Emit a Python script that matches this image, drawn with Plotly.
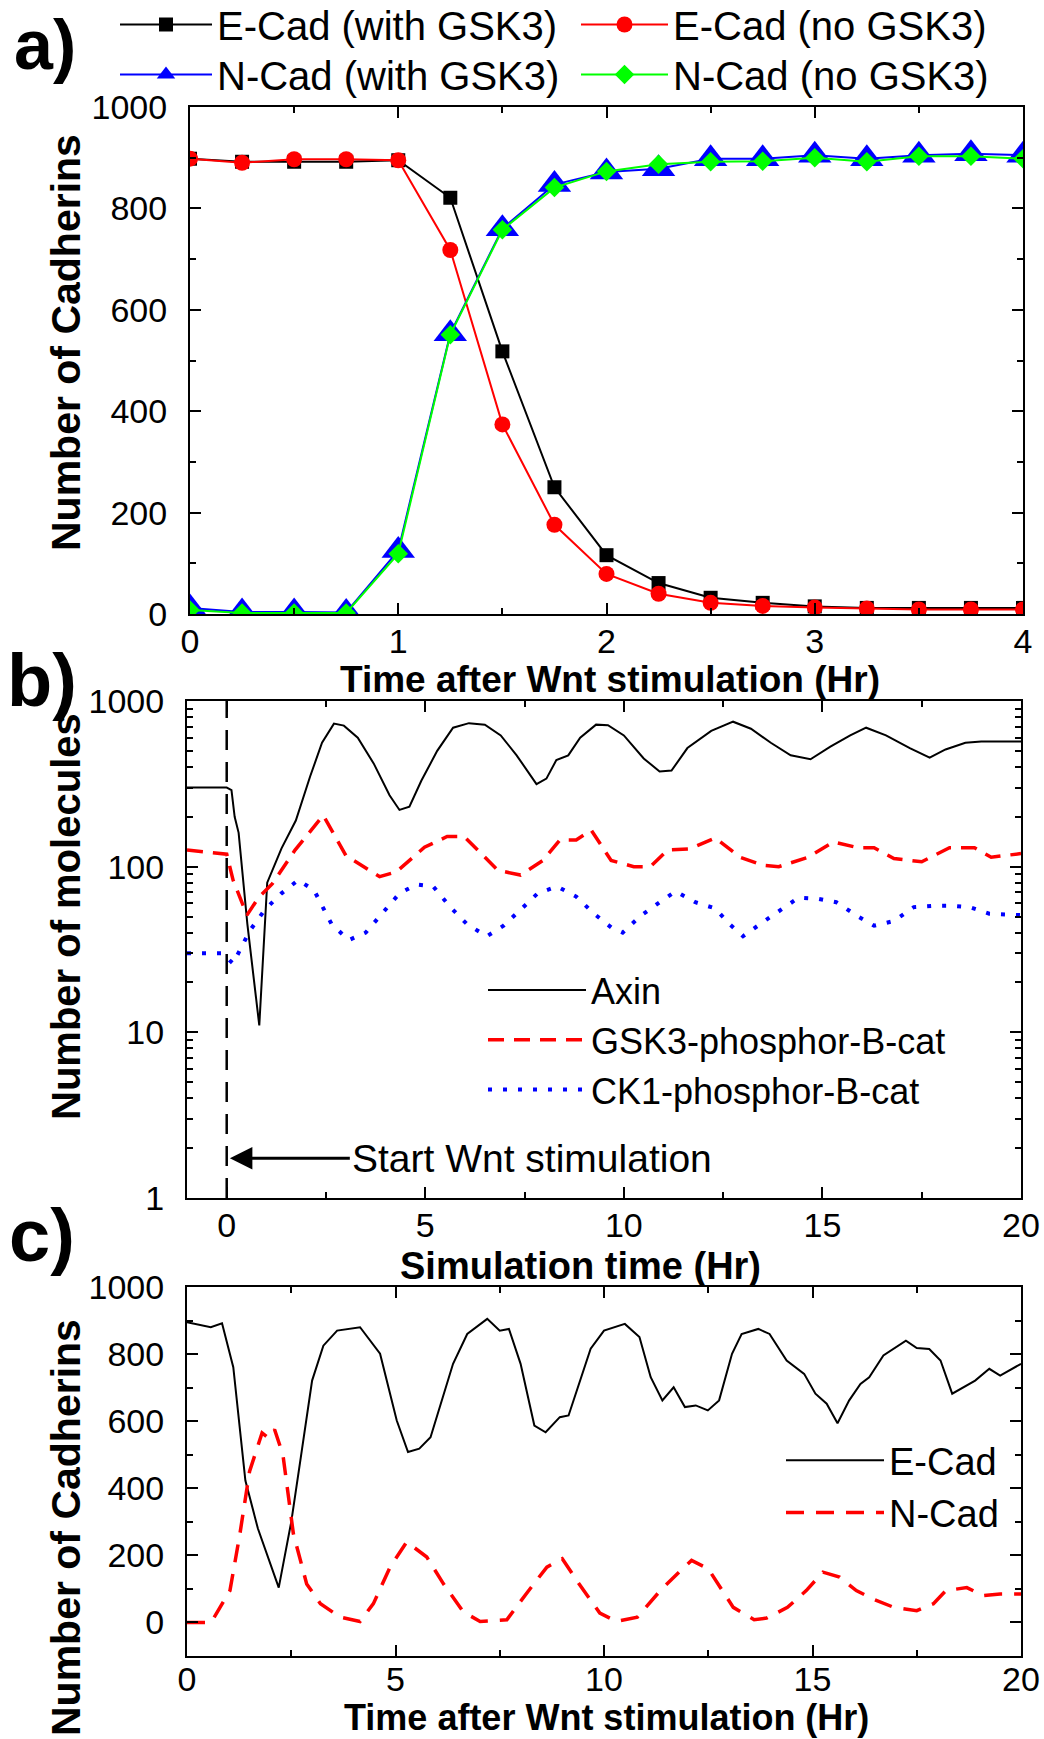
import plotly.graph_objects as go

W, H = 1044, 1739
FONT = "Liberation Sans, Arial, sans-serif"

# ---------------- Panel a data ----------------
a_time = [0, 0.25, 0.5, 0.75, 1.0, 1.25, 1.5, 1.75, 2.0, 2.25, 2.5, 2.75, 3.0, 3.25, 3.5, 3.75, 4.0]
ecad_gsk3 = [898, 892, 892, 892, 895, 821, 518, 250, 116, 61, 32, 22, 15, 12, 12, 12, 12]
ecad_nogsk3 = [898, 890, 897, 897, 895, 718, 374, 176, 79, 40, 22, 16, 13, 11, 9, 9, 9]
ncad_gsk3 = [12, 4, 4, 3, 125, 553, 760, 847, 872, 878, 898, 898, 905, 898, 905, 908, 905]
ncad_nogsk3 = [8, 2, 2, 2, 119, 551, 758, 841, 873, 887, 892, 893, 900, 892, 903, 903, 898]

# ---------------- Panel b data ----------------
axin_t = [-1, 0, 0.12, 0.2, 0.3, 0.52, 0.82, 0.9, 1.02, 1.38, 1.74, 2.1, 2.4, 2.7, 2.95, 3.3,
          3.7, 4.1, 4.35, 4.6, 4.9, 5.3, 5.7, 6.1, 6.5, 6.9, 7.3, 7.8, 8.05, 8.3, 8.6, 8.9,
          9.3, 9.6, 10.0, 10.5, 10.9, 11.2, 11.6, 12.2, 12.75, 13.2, 13.7, 14.2, 14.7, 15.2,
          15.7, 16.1, 16.6, 17.2, 17.7, 18.1, 18.6, 19.0, 20.0]
axin_v = [300, 300, 290, 200, 160, 45, 11, 25, 80, 129, 190, 350, 560, 730, 710, 600,
          420, 270, 220, 230, 330, 500, 690, 735, 720, 620, 470, 315, 340, 440, 470, 600,
          720, 715, 620, 450, 375, 380, 520, 660, 750, 680, 560, 470, 445, 530,
          620, 690, 620, 520, 455, 510, 560, 570, 570]

gsk_t = [-1, 0, 0.16, 0.51, 0.8, 1.15, 1.72, 2.43, 3.0, 3.85, 4.27, 4.98, 5.55, 5.98, 6.83,
         7.4, 7.96, 8.39, 8.8, 9.18, 9.68, 10.25, 10.67, 11.1, 11.66, 12.3, 12.93, 13.5, 13.9,
         14.64, 15.28, 15.9, 16.3, 16.8, 17.5, 18.2, 18.83, 19.25, 20.0]
gsk_v = [126, 119, 83, 51, 65, 79, 126, 204, 117, 87, 93, 131, 152, 152, 95,
         89, 109, 145, 145, 166, 109, 100, 100, 126, 128, 149, 114, 102, 100,
         114, 141, 130, 130, 112, 107, 130, 130, 114, 120]

ck1_t = [-1, -0.12, 0.16, 0.58, 0.96, 1.38, 1.8, 2.2, 2.64, 3.07, 3.5, 3.92, 4.35, 4.78, 5.2,
         5.63, 6.05, 6.55, 6.97, 7.4, 7.83, 8.32, 8.8, 9.25, 9.68, 9.97, 10.4, 10.9, 11.3,
         11.8, 12.3, 12.66, 13.0, 13.43, 13.9, 14.4, 14.9, 15.35, 15.9, 16.3, 16.8, 17.3,
         17.8, 18.3, 18.7, 19.2, 20.0]
ck1_v = [30, 30, 26, 41, 55, 69, 83, 72, 45, 36, 40, 52, 69, 78, 76,
         57, 45, 38, 44, 55, 69, 76, 66, 52, 43, 40, 50, 61, 71,
         61, 56, 45, 38, 45, 54, 65, 64, 61, 50, 44, 47, 57,
         58, 58, 57, 52, 51]

stim_t = [0, 0]
stim_v = [1, 1000]

# ---------------- Panel c data ----------------
ecad_t = [0, 0.57, 0.84, 1.11, 1.4, 1.7, 2.2, 2.5, 2.73, 3.0, 3.27, 3.6, 4.15, 4.63, 5.03,
          5.3, 5.57, 5.84, 6.38, 6.72, 7.2, 7.5, 7.72, 8.0, 8.33, 8.6, 8.94, 9.15, 9.68,
          10.0, 10.5, 10.85, 11.12, 11.4, 11.67, 11.94, 12.2, 12.49, 12.76, 13.07, 13.3,
          13.7, 13.97, 14.38, 14.8, 15.07, 15.34, 15.6, 15.88, 16.15, 16.36, 16.7, 17.24,
          17.5, 17.8, 18.07, 18.35, 18.9, 19.24, 19.5, 20.0]
ecad_v = [895, 880, 892, 761, 423, 280, 104, 300, 493, 721, 825, 870, 880, 801, 602,
          508, 518, 552, 771, 860, 905, 870, 875, 771, 587, 567, 612, 617, 816,
          870, 890, 851, 731, 662, 701, 642, 647, 632, 662, 801, 860,
          875, 860, 781, 741, 682, 652, 594, 662, 711, 731, 796, 840,
          818, 815, 781, 682, 721, 756, 736, 771]

ncad_t = [0, 0.58, 1.03, 1.27, 1.5, 1.8, 1.95, 2.1, 2.3, 2.55, 2.87, 3.2, 3.67, 4.15, 4.47,
          4.87, 5.27, 5.75, 6.15, 6.63, 7.03, 7.67, 8.15, 8.63, 9.0, 9.4, 9.9, 10.3, 10.8,
          11.35, 11.8, 12.1, 12.5, 13.1, 13.6, 13.9, 14.4, 14.85, 15.25, 15.65, 16.05,
          16.45, 16.95, 17.5, 17.9, 18.2, 18.7, 19.1, 19.5, 20.0]
ncad_v = [0, 0, 95, 265, 450, 565, 550, 575, 500, 265, 115, 56, 16, 3, 56,
          165, 240, 195, 115, 31, 3, 8, 88, 165, 190, 115, 28, 3, 16,
          95, 150, 185, 160, 45, 8, 13, 45, 95, 150, 135, 95,
          70, 45, 35, 56, 95, 104, 80, 85, 85]

# ---------------- helpers ----------------
def px_x(p):
    return p / W

def px_y(p):
    return 1 - p / H

fig = go.Figure()

# Panel a traces (each legend entry placed on its own grid cell)
fig.add_trace(go.Scatter(x=a_time, y=ecad_gsk3, mode="lines+markers", name="E-Cad (with GSK3)",
                         line=dict(color="black", width=2),
                         marker=dict(symbol="square", size=14, color="black"),
                         xaxis="x", yaxis="y", legend="legend"))
fig.add_trace(go.Scatter(x=a_time, y=ecad_nogsk3, mode="lines+markers", name="E-Cad (no GSK3)",
                         line=dict(color="#ff0000", width=2),
                         marker=dict(symbol="circle", size=16, color="#ff0000"),
                         xaxis="x", yaxis="y", legend="legend4"))
fig.add_trace(go.Scatter(x=a_time, y=ncad_gsk3, mode="lines+markers", name="N-Cad (with GSK3)",
                         line=dict(color="#0000ff", width=2),
                         marker=dict(symbol="triangle-up", size=29, color="#0000ff"),
                         xaxis="x", yaxis="y", legend="legend5"))
fig.add_trace(go.Scatter(x=a_time, y=ncad_nogsk3, mode="lines+markers", name="N-Cad (no GSK3)",
                         line=dict(color="#00ff00", width=2),
                         marker=dict(symbol="diamond", size=15, color="#00ff00"),
                         xaxis="x", yaxis="y", legend="legend6"))

# Panel b traces
fig.add_trace(go.Scatter(x=axin_t, y=axin_v, mode="lines", name="Axin",
                         line=dict(color="black", width=2),
                         xaxis="x2", yaxis="y2", legend="legend2"))
fig.add_trace(go.Scatter(x=gsk_t, y=gsk_v, mode="lines", name="GSK3-phosphor-B-cat",
                         line=dict(color="#ff0000", width=3.5, dash="16px,10px"),
                         xaxis="x2", yaxis="y2", legend="legend2"))
fig.add_trace(go.Scatter(x=ck1_t, y=ck1_v, mode="lines", name="CK1-phosphor-B-cat",
                         line=dict(color="#0000ff", width=4, dash="4px,11px"),
                         xaxis="x2", yaxis="y2", legend="legend2"))
fig.add_trace(go.Scatter(x=stim_t, y=stim_v, mode="lines", showlegend=False,
                         line=dict(color="black", width=2.5, dash="20px,12px"),
                         xaxis="x2", yaxis="y2"))

# Panel c traces
fig.add_trace(go.Scatter(x=ecad_t, y=ecad_v, mode="lines", name="E-Cad",
                         line=dict(color="black", width=2),
                         xaxis="x3", yaxis="y3", legend="legend3"))
fig.add_trace(go.Scatter(x=ncad_t, y=ncad_v, mode="lines", name="N-Cad",
                         line=dict(color="#ff0000", width=3.5, dash="18px,12px"),
                         xaxis="x3", yaxis="y3", legend="legend3"))

tickfont = dict(family=FONT, size=34, color="black")

def ax(**kw):
    d = dict(showline=True, linecolor="black", linewidth=2, mirror="ticks",
             ticks="inside", ticklen=11, tickwidth=2, tickcolor="black",
             showgrid=False, zeroline=False, tickfont=tickfont, automargin=False)
    d.update(kw)
    return d

minor_lin = lambda dt: dict(ticks="inside", ticklen=6, tickwidth=2, tickcolor="black",
                            dtick=dt, showgrid=False)

# panel geometry in pixels
A = dict(l=190, r=1023, t=107, b=614)
B = dict(l=187, r=1021, t=701, b=1198)
C = dict(l=187, r=1021, t=1287, b=1656)

def leg(x, y, iw=98, size=37):
    return dict(orientation="v", x=px_x(x), y=px_y(y), xanchor="left", yanchor="top",
                itemwidth=iw, font=dict(family=FONT, size=size, color="black"),
                bgcolor="rgba(0,0,0,0)", itemsizing="trace")

fig.update_layout(
    width=W, height=H,
    margin=dict(l=0, r=0, t=0, b=0, autoexpand=False),
    paper_bgcolor="white", plot_bgcolor="white",
    font=dict(family=FONT, color="black"),
    xaxis=ax(domain=[px_x(A["l"]), px_x(A["r"])], range=[0, 4], dtick=1, tick0=0,
             minor=minor_lin(0.5), anchor="y", ticklabelstandoff=-4),
    yaxis=ax(domain=[px_y(A["b"]), px_y(A["t"])], range=[0, 1000], dtick=200, tick0=0,
             minor=minor_lin(100), anchor="x", ticklabelstandoff=14),
    xaxis2=ax(domain=[px_x(B["l"]), px_x(B["r"])], range=[-1, 20], dtick=5, tick0=0,
              minor=minor_lin(2.5), anchor="y2", ticklabelstandoff=-4),
    yaxis2=ax(domain=[px_y(B["b"]), px_y(B["t"])], type="log", range=[0, 3],
              tickvals=[1, 10, 100, 1000], ticktext=["1", "10", "100", "1000"],
              minor=dict(ticks="inside", ticklen=6, tickwidth=2, tickcolor="black",
                         dtick="D1", showgrid=False),
              anchor="x2", ticklabelstandoff=14),
    xaxis3=ax(domain=[px_x(C["l"]), px_x(C["r"])], range=[0, 20], dtick=5, tick0=0,
              minor=minor_lin(2.5), anchor="y3", ticklabelstandoff=-8),
    yaxis3=ax(domain=[px_y(C["b"]), px_y(C["t"])], range=[-100, 1000],
              tickvals=[0, 200, 400, 600, 800, 1000],
              minor=dict(ticks="inside", ticklen=6, tickwidth=2, tickcolor="black",
                         tick0=0, dtick=100, showgrid=False),
              anchor="x3", ticklabelstandoff=14),
    legend=leg(115, -8, iw=92, size=40),
    legend4=leg(576, -8, iw=87, size=40),
    legend5=leg(115, 42, iw=92, size=40),
    legend6=leg(576, 42, iw=87, size=40),
    legend2=leg(483, 960, size=36),
    legend3=leg(781, 1429, size=38),
)

annots = []

def label(text, x, y, size, bold=True, angle=0):
    annots.append(dict(text=("<b>%s</b>" % text) if bold else text,
                       x=px_x(x), y=px_y(y), xref="paper", yref="paper",
                       xanchor="center", yanchor="middle", showarrow=False,
                       textangle=angle, font=dict(family=FONT, size=size, color="black")))

# panel letters
label("a)", 45, 45, 70)
label("b)", 42, 680, 74)
label("c)", 42, 1235, 74)
# x titles
label("Time after Wnt stimulation (Hr)", 610, 679, 37)
label("Simulation time (Hr)", 580, 1266, 38)
label("Time after Wnt stimulation (Hr)", 606, 1717, 36)
# y titles
label("Number of Cadherins", 66, 343, 41, angle=-90)
label("Number of molecules", 66, 917, 40, angle=-90)
label("Number of Cadherins", 66, 1528, 41, angle=-90)

# arrow annotation in panel b
annots.append(dict(text="Start Wnt stimulation", x=0.08, y=0.2405, xref="x2", yref="y2",
                   ax=3.1, ay=0.2405, axref="x2", ayref="y2", showarrow=True,
                   arrowhead=2, arrowsize=1.5, arrowwidth=3, arrowcolor="black",
                   xanchor="left", yanchor="middle",
                   font=dict(family=FONT, size=39, color="black")))

fig.update_layout(annotations=annots)

fig.write_html("out.html")
